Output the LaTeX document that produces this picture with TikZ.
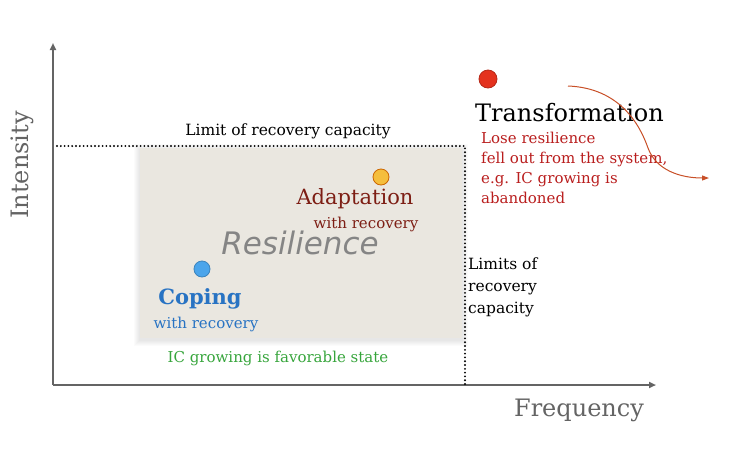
\documentclass[tikz,border=0pt]{standalone}
\usepackage{fontspec}
\setmainfont{DejaVu Serif}
\newfontfamily\resfont{DejaVu Sans}
\usetikzlibrary{arrows.meta, positioning}

\definecolor{axisgray}{RGB}{100,100,100}
\definecolor{boxgray}{RGB}{234,231,224}
\definecolor{adaptred}{RGB}{125,30,20}
\definecolor{copeblue}{RGB}{40,115,195}
\definecolor{dotblue}{RGB}{75,165,235}
\definecolor{dotorange}{RGB}{245,190,60}
\definecolor{dotred}{RGB}{228,50,30}
\definecolor{loseRed}{RGB}{185,30,30}
\definecolor{favgreen}{RGB}{55,165,60}
\definecolor{curvered}{RGB}{200,80,40}

\tikzset{
  smalltxt/.style={font=\fontsize{15}{20}\selectfont, inner sep=0pt},
  blacktxt/.style={font=\fontsize{15.5}{22}\selectfont, inner sep=0pt},
  axistxt/.style={font=\fontsize{24}{26}\selectfont, inner sep=0pt, text=axisgray},
  limitline/.style={line width=2.1pt, line cap=round, dash pattern=on 0pt off 3.8pt},
  axisline/.style={axisgray, line width=1.8pt, -{Triangle[length=7pt,width=6pt]}},
  stdot/.style={circle, minimum size=16pt, inner sep=0pt, line width=0.8pt}
}

\begin{document}
\begin{tikzpicture}[x=1pt,y=-1pt]
\useasboundingbox (0,0) rectangle (740,448);

% Resilience region with soft shadow
\foreach \s in {1,...,6}
  \fill[black, opacity=0.015] (140-\s,148-\s+2) rectangle (462+\s,338+\s+2);
\fill[boxgray] (140,148) rectangle (462,338);

% Axes
\coordinate (origin) at (53,385);
\coordinate (ytop) at (53,43);
\coordinate (xend) at (656,385);
\draw[axisline] (origin) -- (ytop);
\draw[axisline] (origin) -- (xend);
\node[axistxt, rotate=90] (intensity) at (22,165) {Intensity};
\node[axistxt] (frequency) at (579,410) {Frequency};

% Limits of recovery capacity
\coordinate (limleft) at (57,146);
\coordinate (limcorner) at (465,146);
\coordinate (limbottom) at (465,387);
\draw[limitline] (limleft) -- (limcorner) -- (limbottom);
\node[blacktxt] (limtop) at (288,131) {Limit of recovery capacity};
\node[blacktxt, anchor=west, align=left] (limright) at (468,287) {Limits of\\recovery\\capacity};

% Adaptation
\node[stdot, draw=orange!80!black, fill=dotorange] (adaptdot) at (381,177) {};
\node[font=\fontsize{21}{24}\selectfont, inner sep=0pt, text=adaptred] (adapt) at (355,199) {Adaptation};
\node[smalltxt, text=adaptred] (adaptrec) at (366,224) {with recovery};

% Resilience
\node[font=\resfont\itshape\fontsize{31}{34}\selectfont, inner sep=0pt, text=black!48] (resil) at (300,243) {Resilience};

% Coping
\node[stdot, draw=dotblue!80!black, fill=dotblue] (copedot) at (202,269) {};
\node[font=\bfseries\fontsize{21}{24}\selectfont, inner sep=0pt, text=copeblue] (coping) at (200,299) {Coping};
\node[smalltxt, text=copeblue] (copingrec) at (206,324) {with recovery};

\node[smalltxt, text=favgreen] (favstate) at (278,358) {IC growing is favorable state};

% Transformation
\node[stdot, minimum size=18pt, draw=dotred!80!black, fill=dotred] (transdot) at (488,79) {};
\node[font=\fontsize{24}{26}\selectfont, inner sep=0pt, anchor=west] (trans) at (475,113) {Transformation};
\node[smalltxt, text=loseRed, anchor=north west, align=left] (lose) at (481,132) {Lose resilience\\fell out from the system,\\e.g. IC growing is\\abandoned};

\coordinate (curvestart) at (568,86);
\coordinate (curveend) at (709,178);
\draw[curvered, line width=1pt, -{Triangle[length=7pt,width=5pt]}] (curvestart) .. controls (620,88) and (640,125) .. (648,148) .. controls (656,170) and (680,178) .. (curveend);
\end{tikzpicture}
\end{document}
